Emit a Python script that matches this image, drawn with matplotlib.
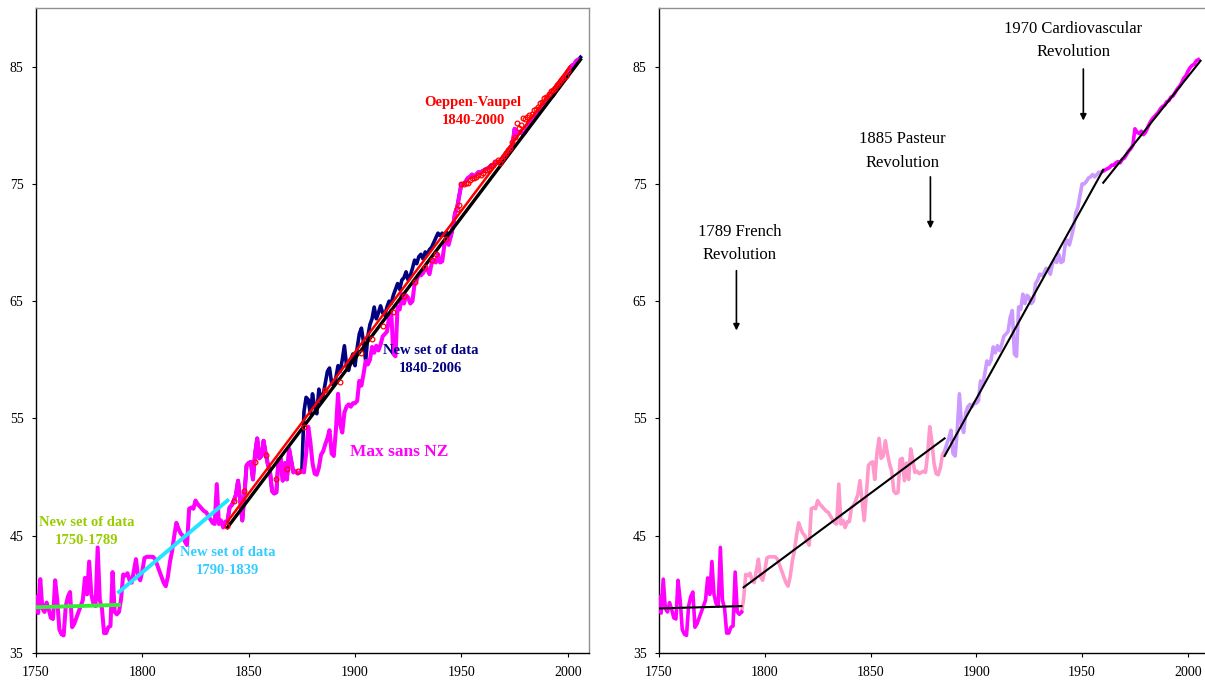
import matplotlib
matplotlib.use("Agg")
import matplotlib.pyplot as plt
import numpy as np

plt.rcParams['font.family'] = ['Liberation Serif', 'DejaVu Serif']

# ---------------- data ----------------
years = np.arange(1750, 2006)
max_sans_nz = [
    39.8, 38.4, 41.3, 38.8, 38.5, 39.3, 38.7, 38.0, 37.9, 41.2,
    39.5, 37.0, 36.6, 36.5, 39.0, 39.8, 40.2, 37.2, 37.5, 38.0,
    38.5, 39.0, 39.5, 41.4, 40.0, 42.8, 40.0, 39.2, 39.0, 44.0,
    39.5, 38.8, 36.7, 36.7, 37.2, 37.3, 41.9, 38.5, 38.3, 38.5,
    39.6, 41.7, 41.6, 41.8, 41.2, 41.0, 42.0, 43.0, 41.5, 41.2,
    42.0, 43.1, 43.2, 43.2, 43.2, 43.2, 43.0, 42.5, 42.0, 41.5,
    41.0, 40.7, 41.5, 42.8, 43.7, 45.0, 46.1, 45.6, 45.2, 45.0,
    44.5, 44.2, 47.3, 47.4, 47.3, 48.0, 47.7, 47.5, 47.3, 47.1,
    47.0, 46.7, 46.4, 46.1, 46.0, 49.4, 46.0, 46.3, 45.7, 46.2,
    46.2, 47.4, 47.6, 48.0, 48.5, 49.7, 48.0, 46.3, 48.5, 51.0,
    51.2, 51.3, 49.8, 52.0, 53.3, 51.6, 51.8, 53.1, 52.0, 51.1,
    50.5, 48.8, 48.6, 48.7, 51.5, 51.6, 49.7, 51.2, 49.8, 52.4,
    51.4, 50.4, 50.5, 50.3, 50.4, 50.5, 50.4, 52.0, 54.3, 53.0,
    51.2, 50.3, 50.2, 50.8, 51.9, 52.2, 52.8, 53.3, 54.0, 52.0,
    51.8, 54.0, 57.1, 54.5, 53.8, 55.5, 56.0, 56.2, 56.0, 56.3,
    56.3, 56.5, 58.2, 57.8, 58.8, 59.9, 59.6, 60.0, 61.1, 60.6,
    61.2, 60.8, 61.3, 62.0, 62.2, 62.4, 63.6, 64.2, 60.5, 60.3,
    64.5, 64.3, 65.6, 64.8, 65.5, 65.3, 64.8, 65.0, 66.5, 66.8,
    67.3, 67.2, 67.4, 67.8, 67.7, 67.3, 68.2, 68.5, 68.3, 69.0,
    68.3, 68.4, 69.8, 70.2, 69.8, 70.5, 71.3, 72.5, 73.0, 74.0,
    75.0, 75.0, 75.2, 75.5, 75.6, 75.8, 75.6, 75.8, 76.0, 76.0,
    76.1, 76.2, 76.3, 76.4, 76.6, 76.6, 76.8, 76.9, 76.8, 77.1,
    77.2, 77.5, 77.8, 78.0, 78.3, 79.7, 79.4, 79.3, 79.5, 79.2,
    79.4, 79.8, 80.2, 80.5, 80.7, 80.9, 81.1, 81.4, 81.6, 81.7,
    82.0, 82.1, 82.4, 82.5, 82.8, 83.1, 83.3, 83.6, 84.0, 84.2,
    84.6, 84.9, 85.1, 85.2, 85.5, 85.6,
]

# New set of data 1840-2006 : part where it differs from "Max sans NZ"
navy_mid_years = np.arange(1876, 1945)
navy_mid = [
    55.6, 56.8, 56.6, 55.4, 57.1, 56.0, 55.4, 57.5, 56.5, 57.0,
    58.0, 59.0, 59.3, 58.0, 57.8, 58.5, 59.5, 59.0, 60.0, 61.2,
    59.5, 59.1, 60.0, 60.5, 59.5, 61.0, 62.2, 62.7, 61.5, 59.9,
    62.0, 63.0, 63.5, 64.5, 63.5, 64.0, 64.6, 64.0, 63.8, 64.5,
    65.0, 64.8, 65.5, 66.0, 66.5, 66.0, 66.8, 67.0, 67.5, 66.8,
    67.2, 67.8, 68.5, 68.2, 68.8, 69.0, 68.6, 69.2, 69.0, 69.4,
    69.6, 70.0, 70.4, 70.8, 70.6, 70.8, 70.6, 70.9, 70.6,
]
navy_end_year = 2006
navy_end_val = 85.8

# Oeppen-Vaupel points
ov_years = [1840, 1843, 1848, 1853, 1858, 1863, 1868, 1873, 1876, 1886,
            1893, 1903, 1908, 1913, 1918, 1923, 1928, 1933, 1936, 1938,
            1943, 1948, 1949] + list(range(1950, 2001))
ov_vals = [45.8, 48.0, 48.8, 51.3, 51.9, 49.8, 50.7, 50.5, 54.3, 57.4,
           58.1, 60.6, 61.8, 62.9, 64.1, 65.4, 66.6, 67.9, 68.5, 69.0,
           70.3, 72.9, 73.2,
           75.0, 75.0, 75.1, 75.1, 75.3, 75.5, 75.5, 75.6, 75.8, 75.8,
           75.9, 76.2, 76.2, 76.3, 76.5, 76.6, 76.9, 77.0, 76.8, 77.1,
           77.4, 77.6, 77.9, 78.1, 78.6, 79.0, 80.2, 79.8, 80.0, 80.6,
           80.5, 80.7, 80.9, 81.0, 81.3, 81.4, 81.6, 81.9, 82.0, 82.3,
           82.4, 82.7, 82.9, 83.0, 83.2, 83.4, 83.6, 83.9, 84.0, 84.2,
           84.6]

# fitted trend lines (endpoints)
fit_1750_1789 = ([1750, 1789], [38.9, 39.1])
fit_1790_1839 = ([1789, 1840], [40.2, 48.0])
fit_1840_2006 = ([1840, 2006], [45.7, 85.6])
fit_ov = ([1840, 2001], [46.2, 85.0])

rfit_1 = ([1750, 1789], [38.8, 39.0])
rfit_2 = ([1790, 1885], [40.6, 53.3])
rfit_3 = ([1885, 1960], [51.8, 76.2])
rfit_4 = ([1960, 2006], [75.1, 85.5])

period_breaks = [1789, 1885, 1960]

xticks = [1750, 1800, 1850, 1900, 1950, 2000]
yticks = [35, 45, 55, 65, 75, 85]

MAG = '#FF00FF'
NAVY = '#000080'
PINK = '#FF99CC'
LAV = '#CC99FF'

fig = plt.figure(figsize=(12.05, 6.82), dpi=100)
ax1 = fig.add_axes([36 / 1205, 29 / 682, 553 / 1205, 645 / 682])
ax2 = fig.add_axes([659 / 1205, 29 / 682, 550 / 1205, 645 / 682])


def style(ax):
    ax.set_xlim(1750, 2010)
    ax.set_ylim(35, 90)
    ax.set_xticks(xticks)
    ax.set_yticks(yticks)
    ax.tick_params(labelsize=10, length=3, width=0.8, direction='out')
    ax.tick_params(axis='x', pad=6)
    ax.tick_params(axis='y', pad=6)
    for s in ['left', 'bottom']:
        ax.spines[s].set_color('black')
        ax.spines[s].set_linewidth(1.0)
    for s in ['top', 'right']:
        ax.spines[s].set_color('#909090')
        ax.spines[s].set_linewidth(1.0)


style(ax1)
style(ax2)

# ---------------- left panel ----------------
yrs = list(years)
vals = list(max_sans_nz)
i1875 = yrs.index(1875)
i1945 = yrs.index(1945)
navy_x = yrs[yrs.index(1840):i1875 + 1] + list(navy_mid_years) + yrs[i1945:] + [navy_end_year]
navy_y = vals[yrs.index(1840):i1875 + 1] + list(navy_mid) + vals[i1945:] + [navy_end_val]

ax1.plot(navy_x, navy_y, color=NAVY, lw=2.6, zorder=2, solid_joinstyle='round')
ax1.plot(years, max_sans_nz, color=MAG, lw=2.9, zorder=3, solid_joinstyle='round')
ax1.plot(*fit_1750_1789, color='#33EE33', lw=2.8, zorder=4)
ax1.plot(*fit_1790_1839, color='#22E5FF', lw=2.8, zorder=4)
ax1.plot(*fit_1840_2006, color='black', lw=2.4, zorder=4)
ax1.plot(*fit_ov, color='#FF0000', lw=1.8, zorder=5)
ax1.plot(ov_years, ov_vals, linestyle='none', marker='o', ms=3.4, mfc='none',
         mec='#FF0000', mew=0.9, zorder=6)

bold = dict(fontweight='bold', ha='center', va='center', linespacing=1.5)
ax1.text(1955.5, 81.2, 'Oeppen-Vaupel\n1840-2000', color='#FF0000', fontsize=10.5, **bold)
ax1.text(1935.6, 60.0, 'New set of data\n1840-2006', color=NAVY, fontsize=10.5, **bold)
ax1.text(1920.9, 52.15, 'Max sans NZ', color=MAG, fontsize=12.5, **bold)
ax1.text(1773.7, 45.4, 'New set of data\n1750-1789', color='#99CC00', fontsize=10.5, **bold)
ax1.text(1840.0, 42.8, 'New set of data\n1790-1839', color='#33CCFF', fontsize=10.5, **bold)

# ---------------- right panel ----------------
ys = np.array(years)
mv = np.array(max_sans_nz)
b1, b2, b3 = period_breaks
m1 = ys <= b1
m2 = (ys >= b1) & (ys <= b2)
m3 = (ys >= b2) & (ys <= b3)
m4 = ys >= b3
ax2.plot(ys[m2], mv[m2], color=PINK, lw=2.6, zorder=2, solid_joinstyle='round')
ax2.plot(ys[m3], mv[m3], color=LAV, lw=2.6, zorder=2, solid_joinstyle='round')
ax2.plot(ys[m1], mv[m1], color=MAG, lw=2.6, zorder=3, solid_joinstyle='round')
ax2.plot(ys[m4], mv[m4], color=MAG, lw=2.6, zorder=3, solid_joinstyle='round')
for f in (rfit_1, rfit_2, rfit_3, rfit_4):
    ax2.plot(*f, color='black', lw=1.5, zorder=4)

reg = dict(ha='center', va='center', fontsize=12, linespacing=1.6)
ax2.text(1788.0, 69.9, '1789 French\nRevolution', **reg)
ax2.text(1865.0, 77.8, '1885 Pasteur\nRevolution', **reg)
ax2.text(1945.8, 87.2, '1970 Cardiovascular\nRevolution', **reg)
arrow = dict(arrowstyle='-|>', color='black', lw=1.2, mutation_scale=9, shrinkA=0, shrinkB=0)
ax2.annotate('', xy=(1786.6, 62.5), xytext=(1786.6, 67.6), arrowprops=arrow)
ax2.annotate('', xy=(1878.3, 71.2), xytext=(1878.3, 75.6), arrowprops=arrow)
ax2.annotate('', xy=(1950.6, 80.4), xytext=(1950.6, 84.8), arrowprops=arrow)

fig.savefig('out.png', dpi=100)
